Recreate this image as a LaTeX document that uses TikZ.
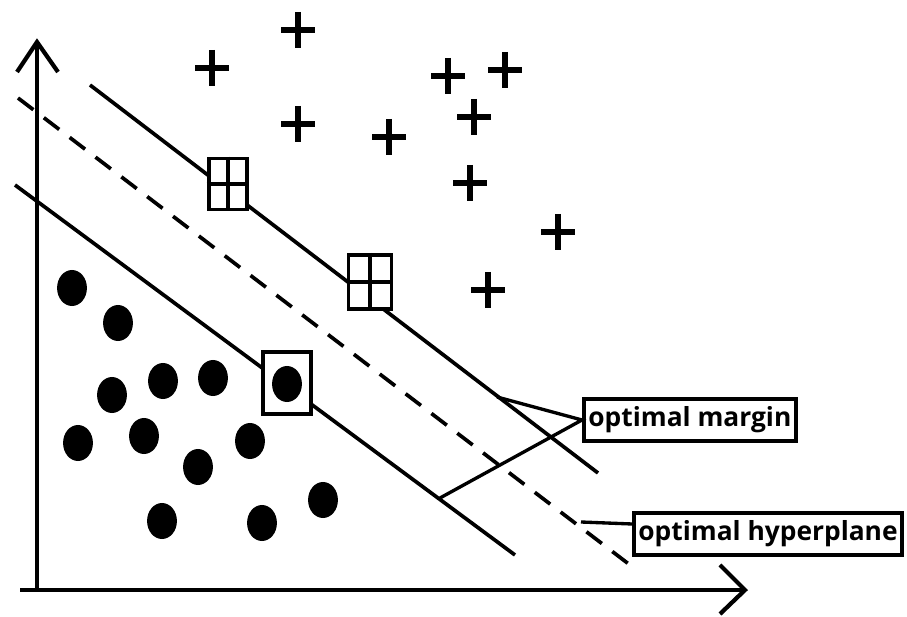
\documentclass[tikz,border=0pt]{standalone}
\usepackage{fontspec}
\setmainfont{Open Sans}
\usetikzlibrary{shapes.geometric}
\begin{document}
\begin{tikzpicture}[x=0.02cm,y=-0.02cm,
  axis/.style={line width=2.4pt,line join=miter},
  mline/.style={line width=2.1pt},
  hline/.style={line width=2.1pt,dash pattern=on 11pt off 7.5pt},
  dot/.style={ellipse,fill=black,minimum width=17pt,minimum height=20.5pt,inner sep=0pt},
  pbox/.style={draw,line width=2.2pt,inner sep=0pt},
  lab/.style={draw,line width=2.3pt,font=\bfseries\fontsize{15}{17}\selectfont,inner xsep=2.5pt,inner ysep=1pt,minimum height=24pt},
  conn/.style={line width=1.9pt},
  pics/plus/.style={code={\draw[line width=3pt] (-17,0) -- (17,0) (0,-18) -- (0,18);}}
]
\useasboundingbox (0,0) rectangle (907,617);
% axes
\coordinate (o) at (37,590);
\coordinate (ytop) at (37,42);
\coordinate (xend) at (745,590);
\draw[axis] (37,591) -- (ytop);
\draw[axis] (17,72) -- (ytop) -- (58,72);
\draw[axis] (20,590) -- (xend);
\draw[axis] (720,565) -- (xend) -- (720,614);
% lines
\coordinate (u1) at (90,85);
\coordinate (u2) at (598,473);
\coordinate (h1) at (18,98);
\coordinate (h2) at (630,565);
\coordinate (l1) at (15,185);
\coordinate (l2) at (515,555);
\draw[mline] (u1) -- (u2);
\draw[hline] (h1) -- (h2);
\draw[mline] (l1) -- (l2);
% boxed support vectors
\node[pbox,fill=white,minimum width=22pt,minimum height=29pt] (s1) at (228,184) {};
\draw[line width=2.2pt] (s1.north) -- (s1.south) (s1.west) -- (s1.east);
\node[pbox,fill=white,minimum width=24.5pt,minimum height=31pt] (s2) at (370,282) {};
\draw[line width=2.2pt] (s2.north) -- (s2.south) (s2.west) -- (s2.east);
\node[pbox,fill=white,minimum width=27.5pt,minimum height=35.5pt] (s3) at (287,383) {};
\node[dot] (c0) at (287,384) {};
% plus points
\foreach \x/\y in {298/30,212/68,298/124,448/76,505/70,474/117,389/137,470/183,558/232,488/290}
  \pic at (\x,\y) {plus};
% circle points
\foreach \x/\y [count=\i] in {72/288,118/323,112/395,163/381,213/378,78/443,144/436,250/441,198/467,323/500,162/521,262/523}
  \node[dot] (c\i) at (\x,\y) {};
% labels
\node[lab,anchor=west] (m) at (582,420) {optimal margin};
\node[lab,anchor=west] (hp) at (632,534) {optimal hyperplane};
\coordinate (mu) at (497,397);
\coordinate (ml) at (440,498);
\coordinate (hh) at (581,522);
\draw[conn] (mu) -- (m.west) -- (ml);
\draw[conn] (hp.west |- 0,524) -- (hh);
\end{tikzpicture}
\end{document}
